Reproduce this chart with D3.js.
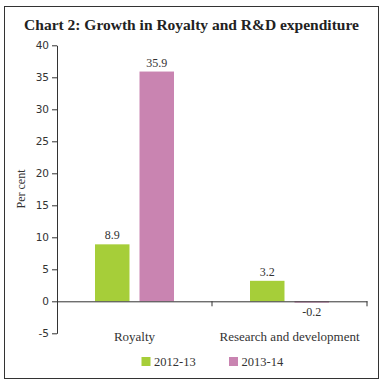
<!DOCTYPE html>
<html>
<head>
<meta charset="utf-8">
<script src="https://cdn.jsdelivr.net/npm/d3@7"></script>
<style>
  html, body { margin: 0; padding: 0; background: #fff; }
  svg { display: block; }
</style>
</head>
<body>
<svg id="chart" width="384" height="384"></svg>
<script>
const title = "Chart 2: Growth in Royalty and R&D expenditure";
const categories = ["Royalty", "Research and development"];
const seriesNames = ["2012-13", "2013-14"];
const values2012 = [8.9, 3.2];
const values2013 = [35.9, -0.2];
const yTicks = [-5, 0, 5, 10, 15, 20, 25, 30, 35, 40];
const colors = ["#a6ce39", "#c984b1"];

const svg = d3.select("#chart");
const serif = "'Liberation Serif', 'DejaVu Serif', serif";
const sans = "'DejaVu Sans', sans-serif";
const loc = d3.formatLocale({ decimal: ".", thousands: ",", grouping: [3], currency: ["", ""], minus: "-" });

// frame
svg.append("rect").attr("x", 4.5).attr("y", 6.5).attr("width", 374).attr("height", 372)
  .attr("fill", "none").attr("stroke", "#333").attr("stroke-width", 1);

svg.append("text").attr("x", 191.5).attr("y", 29.5).attr("text-anchor", "middle")
  .attr("font-family", serif).attr("font-weight", "bold").attr("font-size", 15.5)
  .attr("fill", "#222").text(title);

const pLeft = 57, pRight = 367, pTop = 45.3, pBottom = 333.3;
const y = d3.scaleLinear().domain([-5, 40]).range([pBottom, pTop]);
const x0 = d3.scaleBand().domain(categories).range([pLeft, pRight]).paddingInner(0).paddingOuter(0);
const x1 = d3.scaleBand().domain(seriesNames).range([0, x0.bandwidth()]).paddingInner(0.225).paddingOuter(0.854);

// y axis
const yAxis = d3.axisLeft(y).tickValues(yTicks).tickSize(5).tickSizeOuter(0).tickFormat(loc.format("d"));
const gy = svg.append("g").attr("transform", `translate(${pLeft},0)`).call(yAxis);
gy.select(".domain").attr("stroke", "#333");
gy.selectAll(".tick line").attr("stroke", "#333");
gy.selectAll(".tick text").attr("font-family", sans).attr("font-size", 10.5).attr("fill", "#333").attr("x", -8);

// bars
const data = categories.map((c, i) => ({ cat: c, vals: [values2012[i], values2013[i]] }));
const groups = svg.append("g").selectAll("g").data(data).join("g")
  .attr("transform", d => `translate(${x0(d.cat)},0)`);
groups.selectAll("rect").data(d => d.vals.map((v, j) => ({ v, s: seriesNames[j], j })))
  .join("rect")
  .attr("x", d => x1(d.s))
  .attr("width", x1.bandwidth())
  .attr("y", d => Math.min(y(d.v), y(0)))
  .attr("height", d => Math.max(Math.abs(y(d.v) - y(0)), 1))
  .attr("fill", d => colors[d.j]);
groups.selectAll("text.val").data(d => d.vals.map((v, j) => ({ v, s: seriesNames[j], j })))
  .join("text").attr("class", "val")
  .attr("x", d => x1(d.s) + x1.bandwidth() / 2)
  .attr("y", d => d.v >= 0 ? y(d.v) - 5 : y(0) + 15)
  .attr("text-anchor", "middle")
  .attr("font-family", serif).attr("font-size", 12).attr("fill", "#333")
  .text(d => loc.format(".1f")(d.v));

// x axis at zero
const xAxis = d3.axisBottom(x0).tickSize(0).tickSizeOuter(0).tickFormat("");
const gx = svg.append("g").attr("transform", `translate(0,${y(0)})`).call(xAxis);
gx.select(".domain").attr("stroke", "#333");
gx.selectAll(".tick").remove();
const bounds = [x0(categories[1]), pRight];
gx.selectAll("line.sep").data(bounds).join("line").attr("class", "sep")
  .attr("x1", d => d).attr("x2", d => d).attr("y1", 0).attr("y2", 5).attr("stroke", "#333");

// category labels
svg.append("g").selectAll("text").data(categories).join("text")
  .attr("x", d => x0(d) + x0.bandwidth() / 2)
  .attr("y", 341)
  .attr("text-anchor", "middle")
  .attr("font-family", serif).attr("font-size", 13).attr("fill", "#333")
  .text(d => d);

// y label
svg.append("text").attr("transform", "translate(25,189) rotate(-90)")
  .attr("text-anchor", "middle").attr("font-family", serif).attr("font-size", 12)
  .attr("fill", "#333").text("Per cent");

// legend
const legendX = [141.5, 229];
const lg = svg.append("g").selectAll("g").data(seriesNames).join("g")
  .attr("transform", (d, i) => `translate(${legendX[i]},357)`);
lg.append("rect").attr("width", 9).attr("height", 9).attr("fill", (d, i) => colors[i]);
lg.append("text").attr("x", 12.5).attr("y", 8.5).attr("font-family", serif).attr("font-size", 12.5)
  .attr("fill", "#333").text(d => d);
</script>
</body>
</html>
